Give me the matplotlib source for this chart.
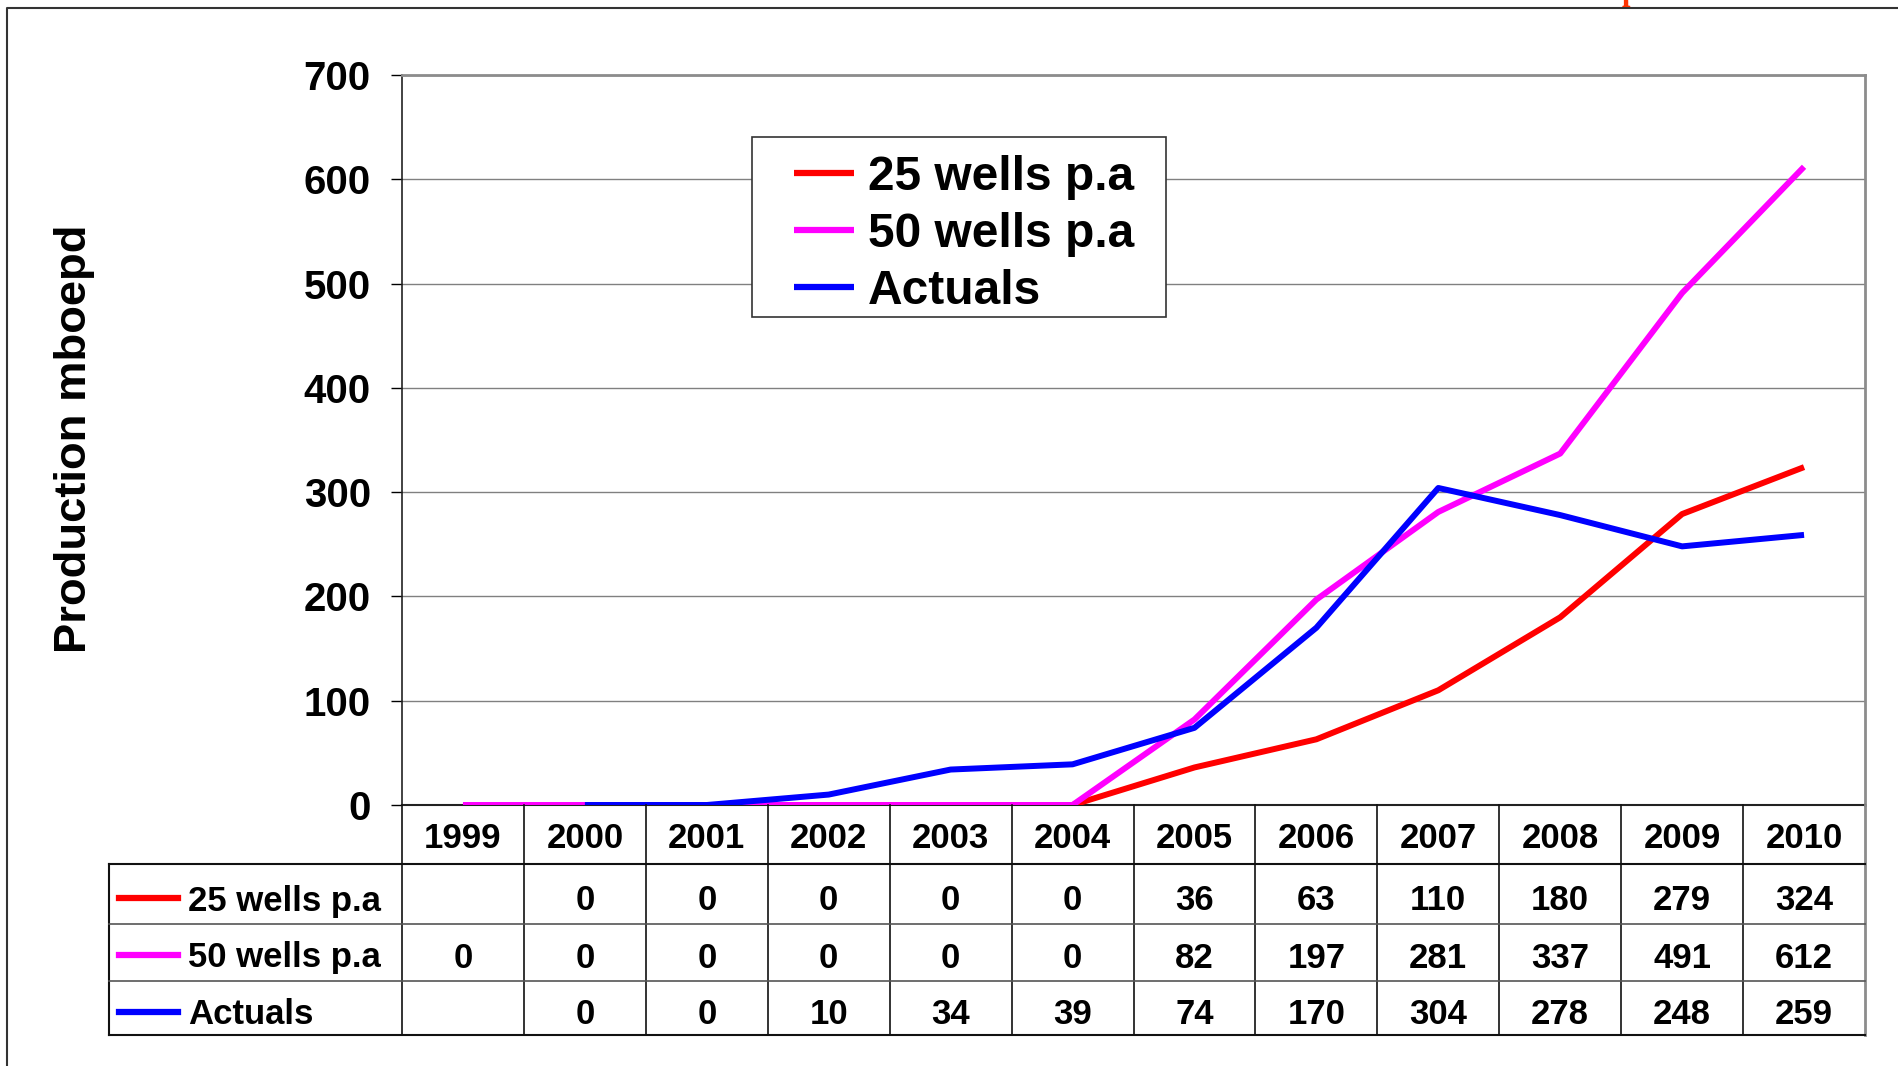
import matplotlib
matplotlib.use('Agg')
import matplotlib.pyplot as plt
from matplotlib.lines import Line2D
from matplotlib.patches import Rectangle

plt.rcParams['font.family'] = ['Liberation Sans', 'DejaVu Sans']
plt.rcParams['font.weight'] = 'bold'

years = ['1999', '2000', '2001', '2002', '2003', '2004', '2005', '2006', '2007', '2008', '2009', '2010']
wells_25 = [None, 0, 0, 0, 0, 0, 36, 63, 110, 180, 279, 324]
wells_50 = [0, 0, 0, 0, 0, 0, 82, 197, 281, 337, 491, 612]
actuals = [None, 0, 0, 10, 34, 39, 74, 170, 304, 278, 248, 259]
series_names = ['25 wells p.a', '50 wells p.a', 'Actuals']
series_colors = ['#ff0000', '#ff00ff', '#0000ff']
series_values = [wells_25, wells_50, actuals]

W, H = 1898, 1066
def fx(px):
    return px / W
def fy(py):
    return 1 - py / H

fig = plt.figure(figsize=(W / 100, H / 100), dpi=100)

# plot area (pixel box of the reference)
left, right, top, bottom = 402, 1865, 75, 805
ax = fig.add_axes([fx(left), fy(bottom), fx(right - left), (bottom - top) / H])

n = len(years)
xs = list(range(n))
for i, (name, col, vals) in enumerate(zip(series_names, series_colors, series_values)):
    px = [x for x, v in zip(xs, vals) if v is not None]
    py = [v for v in vals if v is not None]
    ax.plot(px, py, color=col, linewidth=4.3, label=name, zorder=3 + i, solid_capstyle='butt')

ax.set_xlim(-0.5, n - 0.5)
ax.set_ylim(0, 700)
ax.set_yticks(range(0, 701, 100))
ax.set_xticks([])
ax.tick_params(axis='y', labelsize=29, length=8, width=1, direction='out', pad=14.5)
for lab in ax.get_yticklabels():
    lab.set_fontweight('bold')
ax.yaxis.grid(True, color='#808080', linewidth=1)
ax.set_axisbelow(True)
for s in ['top', 'right']:
    ax.spines[s].set_color('#8c8c8c')
    ax.spines[s].set_linewidth(2)
ax.spines['left'].set_color('#222222')
ax.spines['bottom'].set_color('#222222')
ax.spines['left'].set_linewidth(1.2)
ax.spines['bottom'].set_linewidth(1.5)

# legend box drawn separately so the padding can match the reference
box = Rectangle((fx(752), fy(317)), fx(1166 - 752), (317 - 137) / H, transform=fig.transFigure,
                facecolor='white', edgecolor='#333333', linewidth=1.2, zorder=6, clip_on=False)
ax.add_patch(box)
leg = ax.legend(loc='upper left', bbox_to_anchor=(fx(794), fy(155)), bbox_transform=fig.transFigure,
                borderaxespad=0, prop={'weight': 'bold', 'size': 34.5}, frameon=False,
                handlelength=1.25, handletextpad=0.3, labelspacing=0.25, borderpad=0)
leg.set_zorder(7)
for h in leg.get_lines():
    h.set_linewidth(4.5)

fig.text(fx(75), fy(439), 'Production mboepd', rotation=90, fontsize=32.7, fontweight='bold',
         ha='center', va='center')

# data table under the plot
cell_w = (right - left) / n
tab_left, hdr_bot, tab_bot = 109, 864, 1035
row_lines = [924, 981]
row_text_y = [901, 958, 1015]

def hline(y, x0, x1, color='#111111', lw=1.5):
    fig.add_artist(Line2D([fx(x0), fx(x1)], [fy(y), fy(y)], color=color, linewidth=lw))

def vline(x, y0, y1, color='#111111', lw=1.5):
    fig.add_artist(Line2D([fx(x), fx(x)], [fy(y0), fy(y1)], color=color, linewidth=lw))

for i in range(n + 1):
    vline(left + i * cell_w, bottom, tab_bot, color='#8c8c8c' if i == n else '#111111',
          lw=2 if i == n else 1.2)
vline(tab_left, hdr_bot, tab_bot)
hline(hdr_bot, tab_left, right)
for y in row_lines:
    hline(y, tab_left, right, color='#555555', lw=1.2)
hline(tab_bot, tab_left, right)

for i, yr in enumerate(years):
    fig.text(fx(left + (i + 0.5) * cell_w), fy(838), yr, fontsize=25, fontweight='bold',
             ha='center', va='center')

for r, (name, col, vals) in enumerate(zip(series_names, series_colors, series_values)):
    ty = row_text_y[r]
    fig.add_artist(Line2D([fx(119), fx(178)], [fy(ty - 3), fy(ty - 3)], color=col, linewidth=4.5))
    fig.text(fx(188), fy(ty), name, fontsize=25, fontweight='bold', ha='left', va='center')
    for i, v in enumerate(vals):
        if v is None:
            continue
        fig.text(fx(left + (i + 0.5) * cell_w), fy(ty), str(v), fontsize=25, fontweight='bold',
                 ha='center', va='center')

# slide frame (left and top edge) and the clipped red title fragment
fig.add_artist(Line2D([fx(7), fx(7), fx(W)], [0, fy(8), fy(8)], color='#333333', linewidth=1.5))
fig.text(fx(1622), 1.0, 'p', color='#ff3300', fontsize=22, family='Liberation Serif',
         fontweight='bold', ha='left', va='baseline')

fig.savefig('out.png', dpi=100)
